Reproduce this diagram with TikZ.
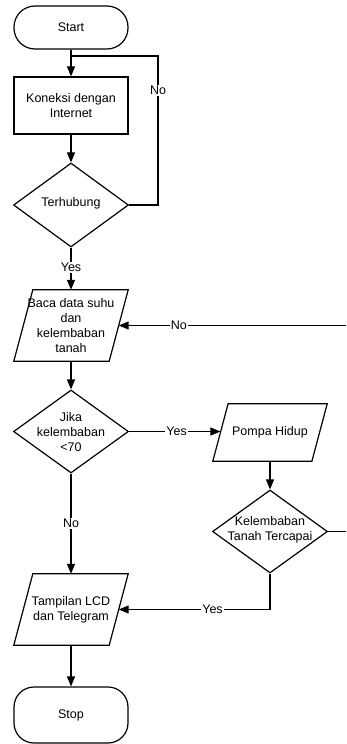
\documentclass[tikz,border=0pt]{standalone}
\usepackage{fontspec}
\setmainfont{Liberation Sans}
\usetikzlibrary{shapes.geometric,arrows.meta}
\newcommand{\drawio}[2]{\draw[line] ([xshift=-#2]#1.south west) -- ([xshift=#2]#1.north west) -- ([xshift=#2]#1.north east) -- ([xshift=-#2]#1.south east) -- cycle;}
\begin{document}
\begin{tikzpicture}[x=1pt,y=-1pt,
  every node/.style={font=\fontsize{12.5}{15}\selectfont},
  base/.style={draw, line width=1.2pt, inner sep=0pt},
  term/.style={base, rectangle, rounded corners=21pt, minimum width=114pt, minimum height=43pt},
  proc/.style={base, rectangle, minimum width=114pt, minimum height=57pt, align=center},
  dec/.style={base, diamond, minimum width=115pt, minimum height=84pt},
  io/.style={rectangle, inner sep=0pt, align=center, minimum width=95pt, minimum height=71pt},
  txt/.style={align=center, inner sep=0pt},
  lbl/.style={fill=white, inner sep=1pt},
  line/.style={line width=1.2pt},
  arr/.style={line, -{Triangle[length=10pt,width=8pt]}}
]
\useasboundingbox (0,0) rectangle (346,744);
\clip (0,0) rectangle (346,744);
\node[term] (start) at (71,27.5) {Start};
\node[proc] (kon) at (71,105.5) {Koneksi dengan\\Internet};
\node[dec] (terh) at (71,205) {};
\node[txt] (terh-t) at (71,203) {Terhubung};
\node[io] (baca) at (71,325.5) {Baca data suhu\\dan\\kelembaban\\tanah};
\drawio{baca}{9.5pt}
\node[dec, minimum height=83pt] (jika) at (71,431.5) {};
\node[txt] (jika-t) at (71,432) {Jika\\kelembaban\\<70};
\node[io, minimum width=98.7pt, minimum height=57pt] (pompa) at (270,432.5) {Pompa Hidup};
\drawio{pompa}{7.65pt}
\node[dec, minimum height=83pt] (kel) at (270,531.5) {};
\node[txt] (kel-t) at (270,530) {Kelembaban\\Tanah Tercapai};
\node[io] (tamp) at (71,609.5) {Tampilan LCD\\dan Telegram};
\drawio{tamp}{9.5pt}
\node[term, minimum height=56pt, rounded corners=20pt] (stop) at (71,715) {Stop};
\coordinate (j1) at (71,56);
\coordinate (loopx) at (158,0);
\coordinate (edge) at (350,0);
\draw[arr] (start) -- (kon);
\draw[arr] (kon) -- (terh);
\draw[line] (terh.east) -- (terh.east -| loopx) -- node[lbl,pos=0.77]{No} (loopx |- j1) -- (j1);
\draw[arr] (terh) -- node[lbl,pos=0.47]{Yes} (baca);
\draw[arr] (baca) -- (jika);
\draw[arr] (jika.east) -- node[lbl,pos=0.52]{Yes} (jika.east -| pompa.west);
\draw[arr] (jika) -- node[lbl]{No} (tamp);
\draw[arr] (pompa) -- (kel);
\draw[line] (kel.east) -- (kel.east -| edge) -- (edge |- baca.east);
\draw[arr] (edge |- baca.east) -- node[lbl,pos=0.74]{No} (baca.east);
\draw[arr] (kel.south) |- node[lbl,pos=0.69]{Yes} (tamp.east);
\draw[arr] (tamp) -- (stop);
\end{tikzpicture}
\end{document}
